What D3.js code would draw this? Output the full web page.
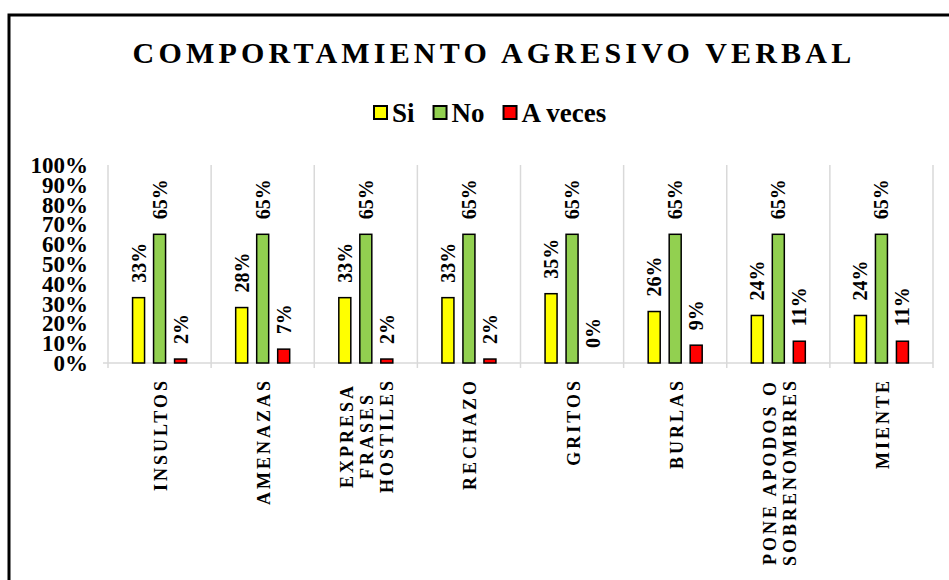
<!DOCTYPE html>
<html>
<head>
<meta charset="utf-8">
<script src="https://cdn.jsdelivr.net/npm/d3@7"></script>
<style>
  body { margin: 0; background: #fff; }
  text { font-family: "Liberation Serif", "Times New Roman", serif; font-weight: bold; fill: #000; }
</style>
</head>
<body>
<div id="chart"></div>
<script>
// datos
const categorias = [["INSULTOS"], ["AMENAZAS"], ["EXPRESA", "FRASES", "HOSTILES"], ["RECHAZO"],
  ["GRITOS"], ["BURLAS"], ["PONE APODOS O", "SOBRENOMBRES"], ["MIENTE"]]
const series = ["Si", "No", "A veces"]
const valoresSi = [0.33, 0.28, 0.33, 0.33, 0.35, 0.26, 0.24, 0.24]
const valoresNo = [0.65, 0.65, 0.65, 0.65, 0.65, 0.65, 0.65, 0.65]
const valoresAveces = [0.02, 0.07, 0.02, 0.02, 0.00, 0.09, 0.11, 0.11]
const ticksY = [0, 0.1, 0.2, 0.3, 0.4, 0.5, 0.6, 0.7, 0.8, 0.9, 1]
const colores = ["#ffff00", "#92d050", "#ff0000"]

const valores = [valoresSi, valoresNo, valoresAveces]
const datos = categorias.map((c, i) => ({
  nombre: c.join(" "),
  lineas: c,
  barras: series.map((s, j) => ({ serie: s, valor: valores[j][i], color: colores[j] }))
}))

const ancho = 949
const alto = 580
const margen = { superior: 165, inferior: 217, izquierdo: 108, derecho: 16 }

const svg = d3.select("#chart").append("svg").attr("width", ancho).attr("height", alto)

// marco negro
svg.append("rect").attr("x", 9).attr("y", 15).attr("width", 990).attr("height", 620)
  .attr("fill", "none").attr("stroke", "#000").attr("stroke-width", 3)

// escalas
const x = d3.scaleBand().domain(datos.map(d => d.nombre))
  .range([margen.izquierdo, ancho - margen.derecho]).padding(0)
const bw = x.bandwidth()
const xSerie = d3.scaleBand().domain(series)
  .range([bw / 2 - 31.5, bw / 2 + 31.5]).paddingInner(0.4286).paddingOuter(0.2143)
const y = d3.scaleLinear().domain([0, 1]).range([alto - margen.inferior, margen.superior])

// titulo
svg.append("text").attr("x", 494).attr("y", 63).attr("text-anchor", "middle")
  .style("font-size", "30px").style("letter-spacing", "4.2px")
  .text("COMPORTAMIENTO AGRESIVO VERBAL")

// leyenda
const leyenda = svg.append("g").attr("transform", "translate(373,0)")
let lx = 0
series.forEach((s, j) => {
  leyenda.append("rect").attr("x", lx + 1).attr("y", 106).attr("width", 13).attr("height", 13)
    .attr("fill", colores[j]).attr("stroke", "#000").attr("stroke-width", 2)
  const t = leyenda.append("text").attr("x", lx + 19).attr("y", 122)
    .style("font-size", "27px").text(s)
  lx += 19 + t.node().getComputedTextLength() + 18
})

// lineas verticales de la cuadricula (limites de categoria)
const limites = datos.map(d => x(d.nombre)).concat([x(datos[datos.length - 1].nombre) + bw])
svg.append("g").selectAll("line").data(limites).join("line")
  .attr("x1", d => d).attr("x2", d => d)
  .attr("y1", y(1)).attr("y2", y(0) + 5)
  .attr("stroke", "#d9d9d9").attr("stroke-width", 1.5)

// eje x (linea base)
svg.append("line").attr("x1", margen.izquierdo - 5).attr("x2", ancho - margen.derecho)
  .attr("y1", y(0)).attr("y2", y(0)).attr("stroke", "#d9d9d9").attr("stroke-width", 1.5)

// eje y
const ejeY = d3.axisLeft(y).tickValues(ticksY).tickFormat(d3.format(".0%")).tickSize(0).tickPadding(20)
const grupoY = svg.append("g").attr("transform", `translate(${margen.izquierdo},0)`).call(ejeY)
grupoY.select(".domain").remove()
grupoY.selectAll("text").style("font-size", "23px")
  .style("font-family", "'Liberation Serif', serif").attr("dy", "0.33em")

// barras
const grupos = svg.append("g").selectAll("g").data(datos).join("g")
  .attr("transform", d => `translate(${x(d.nombre)},0)`)

grupos.selectAll("rect").data(d => d.barras).join("rect")
  .attr("x", d => xSerie(d.serie))
  .attr("y", d => y(d.valor))
  .attr("width", xSerie.bandwidth())
  .attr("height", d => y(0) - y(d.valor))
  .attr("fill", d => d.color)
  .attr("stroke", "#000").attr("stroke-width", 1.5)

// etiquetas de valor
grupos.selectAll("text.valor").data(d => d.barras).join("text")
  .attr("class", "valor")
  .attr("transform", d => `translate(${xSerie(d.serie) + xSerie.bandwidth() / 2},${y(d.valor) - 15}) rotate(-90)`)
  .attr("dy", "0.35em")
  .style("font-size", "20px")
  .text(d => d3.format(".0%")(d.valor))

// etiquetas de categoria (giradas)
grupos.each(function(d) {
  const g = d3.select(this)
  const n = d.lineas.length
  const textos = d.lineas.map((l, j) => g.append("text")
    .attr("text-anchor", "middle")
    .attr("dy", "0.33em")
    .style("font-size", "18px").style("letter-spacing", "3px")
    .text(l))
  const largo = d3.max(textos, t => t.node().getComputedTextLength())
  textos.forEach((t, j) => {
    const cx = bw / 2 + 1.5 + (j - (n - 1) / 2) * 20
    t.attr("transform", `translate(${cx},${378 + largo / 2}) rotate(-90)`)
  })
})
</script>
</body>
</html>
